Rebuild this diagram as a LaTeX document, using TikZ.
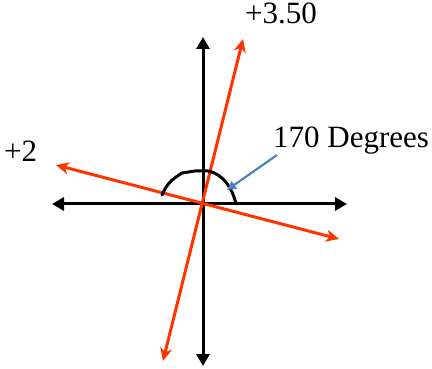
\documentclass[tikz,border=0pt]{standalone}
\usepackage{fontspec}
\setmainfont{Liberation Serif}
\usetikzlibrary{arrows.meta}
\definecolor{redline}{RGB}{255,51,0}
\definecolor{callout}{RGB}{79,129,189}
\begin{document}
\begin{tikzpicture}[x=1pt,y=-1pt,
  axis/.style={line width=3pt,{Triangle[length=12pt,width=13pt]}-{Triangle[length=12pt,width=13pt]}},
  redarrow/.style={redline,line width=3pt,{Stealth[length=13pt,width=12pt,inset=4pt]}-{Stealth[length=13pt,width=12pt,inset=4pt]}},
  lbl/.style={inner sep=0pt,anchor=base west,font=\fontsize{31}{36}\selectfont}]
\useasboundingbox (0,0) rectangle (432,369);
% axis endpoints
\coordinate (vt) at (203,37);
\coordinate (vb) at (203,366);
\coordinate (hl) at (52,204);
\coordinate (hr) at (347,204);
% red line endpoints
\coordinate (ra) at (243,39);
\coordinate (rb) at (163,361);
\coordinate (sa) at (56,165);
\coordinate (sb) at (339,239);
\draw[axis] (vb) -- (vt);
\draw[axis] (hl) -- (hr);
\draw[redarrow] (rb) -- (ra);
\draw[redarrow] (sb) -- (sa);
% angle mark
\draw[line width=3pt,line cap=round,line join=round]
  (162,195) .. controls (166,186) and (170,181) .. (176,177)
  -- (182,173) -- (195,171) -- (208,171)
  .. controls (224,174) and (233,190) .. (236,204);
% labels
\node[lbl] (deg) at (273,148) {170 Degrees};
\node[lbl] (p35) at (245,24) {+3.50};
\node[lbl] (p2) at (4,161) {+2};
\coordinate (ctip) at (227,190);
\draw[callout,line width=2.2pt,-{Triangle[length=9pt,width=9pt]}] (277,155) -- (ctip);
\end{tikzpicture}
\end{document}
